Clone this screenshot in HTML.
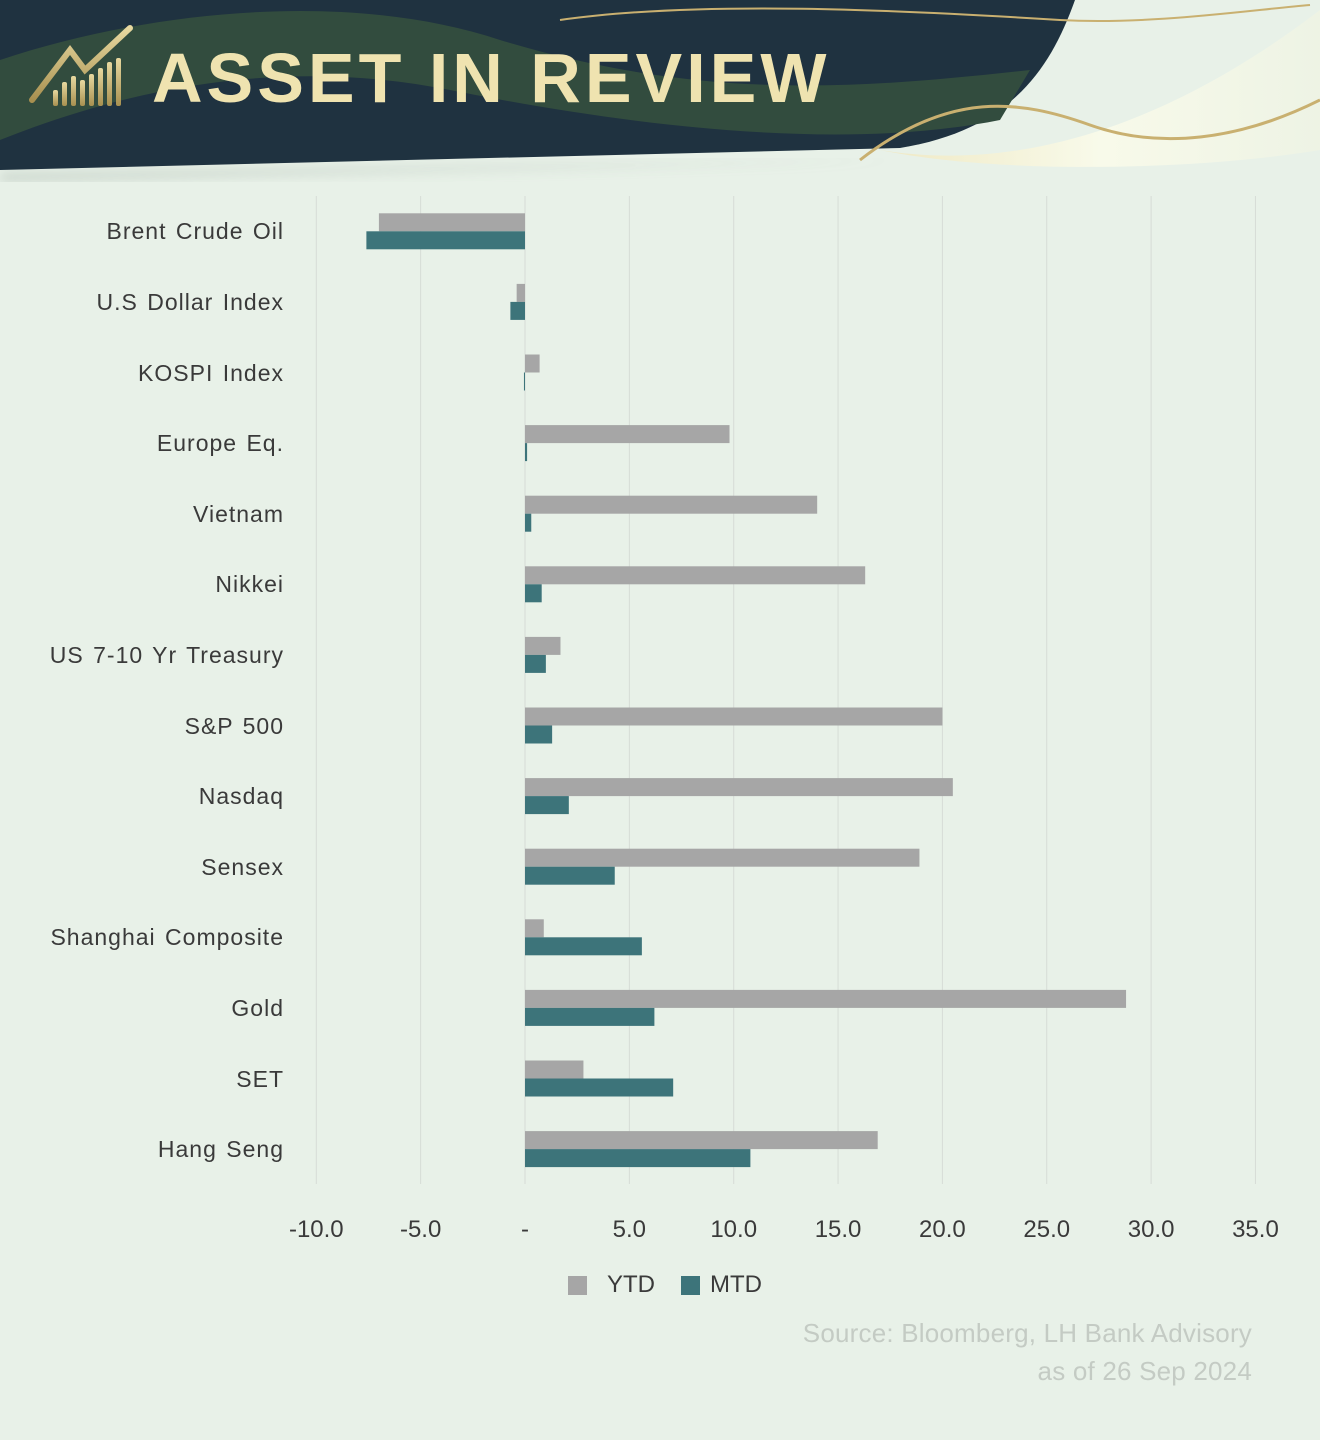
<!DOCTYPE html>
<html><head><meta charset="utf-8"><style>
body{margin:0;background:#e8f1e8;}
#wrap{position:relative;width:1320px;height:1440px;overflow:hidden;background:#e8f1e8;font-family:"Liberation Sans",sans-serif;}
.lbl{position:absolute;right:1036px;font-size:23px;color:#3a3a3a;text-align:right;white-space:nowrap;letter-spacing:1px;word-spacing:2px}
.tick{position:absolute;top:1216px;font-size:24px;color:#3a3a3a;transform:translateX(-50%)}
</style></head><body>
<div id="wrap">
<svg width="1320" height="200" style="position:absolute;left:0;top:0">
<defs><filter id="sh"><feGaussianBlur stdDeviation="6"/></filter>
<linearGradient id="cr" x1="0" x2="1"><stop offset="0" stop-color="#f0e8c0"/><stop offset="0.5" stop-color="#fafbea"/><stop offset="1" stop-color="#eef3e4"/></linearGradient>
<linearGradient id="gd" x1="0" y1="0" x2="0" y2="1"><stop offset="0" stop-color="#e8d9a0"/><stop offset="1" stop-color="#a89050"/></linearGradient></defs>
<path d="M880 150 C1000 170 1150 140 1320 10 L1320 150 C1200 170 1000 175 880 150Z" fill="url(#cr)" opacity="0.9"/>
<path d="M0 175 L900 160 L0 180Z" fill="#8a9a90" filter="url(#sh)" opacity="0.6"/>
<path d="M0 0 L1075 0 C1050 70 1010 130 900 148 L0 170Z" fill="#1f3240"/>
<path d="M0 60 C150 10 350 -10 500 40 C700 100 850 90 1030 70 L1000 120 C850 150 650 130 450 90 C300 60 150 80 0 140Z" fill="#324c3e"/>
<path d="M560 20 C700 0 900 10 1060 20 C1150 25 1250 10 1310 5" stroke="#c9b070" stroke-width="2" fill="none"/>
<path d="M860 160 C950 90 1020 100 1090 125 C1160 150 1240 140 1320 100" stroke="#c9b070" stroke-width="3" fill="none"/>
<g fill="url(#gd)">
<rect x="53" y="90" width="5" height="16" rx="2"/><rect x="62" y="82" width="5" height="24" rx="2"/><rect x="71" y="76" width="5" height="30" rx="2"/><rect x="80" y="80" width="5" height="26" rx="2"/><rect x="89" y="74" width="5" height="32" rx="2"/><rect x="98" y="68" width="5" height="38" rx="2"/><rect x="107" y="62" width="5" height="44" rx="2"/><rect x="116" y="58" width="5" height="48" rx="2"/>
<path d="M32 100 L70 50 L85 70 L130 28" stroke="url(#gd)" stroke-width="6" fill="none" stroke-linecap="round"/>
</g>
<text x="152" y="102" font-family="Liberation Sans" font-weight="bold" font-size="70" fill="#efe3b0" letter-spacing="4">ASSET IN REVIEW</text>
</svg>
<svg id="plot" width="1320" height="1440" style="position:absolute;left:0;top:0"></svg>
<div>
<div style="position:absolute;left:568px;top:1276px;width:19px;height:19px;background:#a6a6a6"></div>
<div style="position:absolute;left:607px;top:1271px;font-size:24px;color:#3a3a3a">YTD</div>
<div style="position:absolute;left:681px;top:1276px;width:19px;height:19px;background:#3d747a"></div>
<div style="position:absolute;left:710px;top:1271px;font-size:24px;color:#3a3a3a">MTD</div>
</div>
<div style="position:absolute;right:68px;top:1314px;font-size:26px;letter-spacing:0.2px;color:#c4cbc4;text-align:right;line-height:38px">Source: Bloomberg, LH Bank Advisory<br>as of 26 Sep 2024</div>
</div>
<script>
const categories=["Brent Crude Oil","U.S Dollar Index","KOSPI Index","Europe Eq.","Vietnam","Nikkei","US 7-10 Yr Treasury","S&P 500","Nasdaq","Sensex","Shanghai Composite","Gold","SET","Hang Seng"];
const ytd=[-7.0,-0.4,0.7,9.8,14.0,16.3,1.7,20.0,20.5,18.9,0.9,28.8,2.8,16.9];
const mtd=[-7.6,-0.7,-0.05,0.1,0.3,0.8,1.0,1.3,2.1,4.3,5.6,6.2,7.1,10.8];
const ticks=[-10,-5,0,5,10,15,20,25,30,35];
const tickLabels=["-10.0","-5.0","-","5.0","10.0","15.0","20.0","25.0","30.0","35.0"];
const NS="http://www.w3.org/2000/svg";
const svg=document.getElementById('plot');
const x0=525,ppu=20.87,top0=196,rowH=70.6;
const X=v=>x0+v*ppu;
const Y=i=>top0+rowH*(i+0.5);
ticks.forEach((t,i)=>{
 const l=document.createElementNS(NS,'line');
 l.setAttribute('x1',X(t));l.setAttribute('x2',X(t));l.setAttribute('y1',top0);l.setAttribute('y2',1184);
 l.setAttribute('stroke','#d6dcd6');l.setAttribute('stroke-width','1');
 
 
 svg.appendChild(l);
 const d=document.createElement('div');d.className='tick';d.style.left=X(t)+'px';d.textContent=tickLabels[i];
 
 
 document.getElementById('wrap').appendChild(d);
});
function bar(v,y,c,name){
 const r=document.createElementNS(NS,'rect');
 const a=X(Math.min(0,v)),b=X(Math.max(0,v));
 r.setAttribute('x',a);r.setAttribute('width',Math.max(b-a,1));r.setAttribute('y',y);r.setAttribute('height',18);r.setAttribute('fill',c);
 
 
 svg.appendChild(r);
}
categories.forEach((c,i)=>{
 const cy=Y(i);
 bar(ytd[i],cy-18,'#a6a6a6','bar-ytd');
 bar(mtd[i],cy,'#3d747a','bar-mtd');
 const d=document.createElement('div');d.className='lbl';d.style.top=(cy-13)+'px';d.textContent=c;
 
 
 document.getElementById('wrap').appendChild(d);
});
</script>
</body></html>
